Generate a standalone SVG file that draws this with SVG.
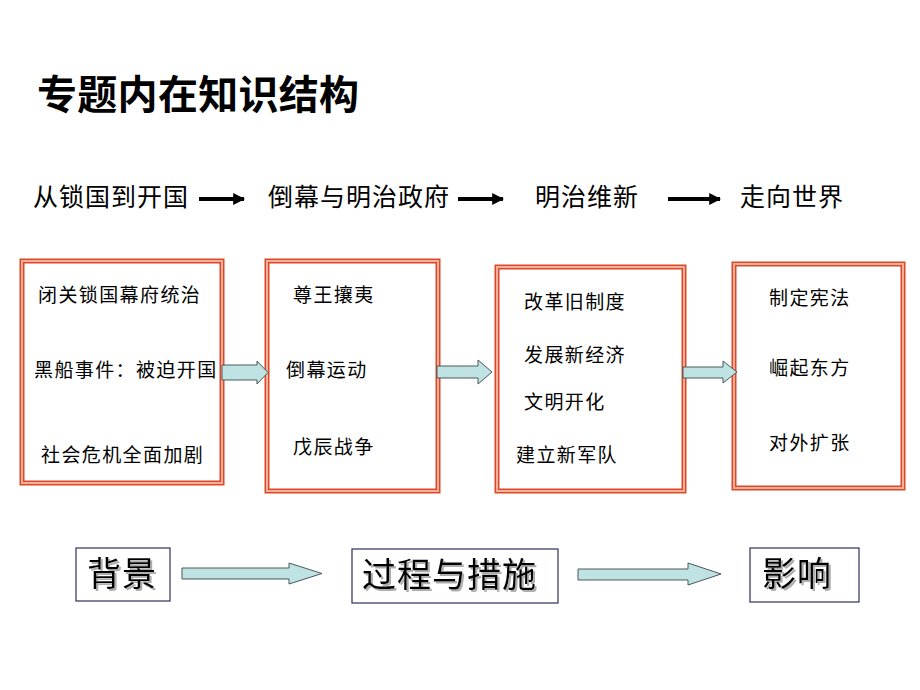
<svg xmlns="http://www.w3.org/2000/svg" width="920" height="690" viewBox="0 0 920 690">
<defs>
<style>
.t{font-family:"Noto Sans CJK SC","Noto Sans",sans-serif;fill:#000}
.title{font-size:40px;font-weight:bold;letter-spacing:0.3px}
.row{font-size:25px;letter-spacing:1px}
.bt{font-size:19px;letter-spacing:1.4px}
.big{font-size:34px;letter-spacing:1px;filter:url(#sh)}
.bo{fill:#fff;stroke:#d84a2a;stroke-width:5}
.bi{fill:none;stroke:#f6ae98;stroke-width:2}
.nb{fill:#fff;stroke:#2e2e5a;stroke-width:1.2}
.ba{fill:#bfe2e2;stroke:#4a5858;stroke-width:1}
.ln{stroke:#000;stroke-width:4}
</style>
<filter id="sh" x="-10%" y="-20%" width="130%" height="150%"><feDropShadow dx="2" dy="2" stdDeviation="0.6" flood-color="#999" flood-opacity="0.8"/></filter>
<marker id="ah" viewBox="0 0 10 10" refX="9" refY="5" markerWidth="3" markerHeight="3" orient="auto" markerUnits="strokeWidth"><path d="M0,0 L10,5 L0,10 z" fill="#000"/></marker>
</defs>
<rect width="920" height="690" fill="#fff"/>
<g id="title"><text class="t title" x="37" y="109">专题内在知识结构</text></g>
<g id="stage1"><text class="t row" x="33" y="206">从锁国到开国</text></g>
<g id="stage2"><text class="t row" x="268" y="206">倒幕与明治政府</text></g>
<g id="stage3"><text class="t row" x="535" y="206">明治维新</text></g>
<g id="stage4"><text class="t row" x="740" y="206">走向世界</text></g>
<g id="box1">
<rect class="bo" x="22" y="261" width="200" height="222"/><rect class="bi" x="22" y="261" width="200" height="222"/>
<text class="t bt" x="38" y="302">闭关锁国幕府统治</text>
<text class="t bt" x="34" y="377">黑船事件：被迫开国</text>
<text class="t bt" x="41" y="462">社会危机全面加剧</text>
</g>
<g id="box2">
<rect class="bo" x="267" y="261" width="171" height="230"/><rect class="bi" x="267" y="261" width="171" height="230"/>
<text class="t bt" x="293" y="302">尊王攘夷</text>
<text class="t bt" x="286" y="377">倒幕运动</text>
<text class="t bt" x="293" y="454">戊辰战争</text>
</g>
<g id="box3">
<rect class="bo" x="497" y="267" width="187" height="224"/><rect class="bi" x="497" y="267" width="187" height="224"/>
<text class="t bt" x="524" y="309">改革旧制度</text>
<text class="t bt" x="524" y="362">发展新经济</text>
<text class="t bt" x="524" y="409">文明开化</text>
<text class="t bt" x="516" y="462">建立新军队</text>
</g>
<g id="box4">
<rect class="bo" x="734" y="264" width="169" height="224"/><rect class="bi" x="734" y="264" width="169" height="224"/>
<text class="t bt" x="769" y="305">制定宪法</text>
<text class="t bt" x="769" y="375">崛起东方</text>
<text class="t bt" x="769" y="450">对外扩张</text>
</g>
<g id="bg">
<rect class="nb" x="76" y="548" width="94" height="53"/>
<text class="t big" x="87" y="586">背景</text>
</g>
<g id="process">
<rect class="nb" x="352" y="549" width="206" height="54"/>
<text class="t big" x="362" y="587">过程与措施</text>
</g>
<g id="impact">
<rect class="nb" x="750" y="548" width="109" height="54"/>
<text class="t big" x="762" y="586">影响</text>
</g>
<g id="connectors">
<line class="ln" x1="199" y1="199" x2="244" y2="199" marker-end="url(#ah)"/>
<line class="ln" x1="458" y1="199" x2="503" y2="199" marker-end="url(#ah)"/>
<line class="ln" x1="668" y1="199" x2="720" y2="199" marker-end="url(#ah)"/>
<path class="ba" d="M222,365 L257,365 L257,361 L268,372.5 L257,384 L257,380 L222,380 Z"/>
<path class="ba" d="M437,366 L478,366 L478,360 L492,372 L478,384 L478,378 L437,378 Z"/>
<path class="ba" d="M683,367 L723,367 L723,361 L737,372 L723,383 L723,378 L683,378 Z"/>
<path class="ba" d="M182,568 L289,568 L289,563 L322,573.5 L289,584 L289,579 L182,579 Z"/>
<path class="ba" d="M578,569 L688,569 L688,563 L721,574 L688,585 L688,580 L578,580 Z"/>
</g>
</svg>
